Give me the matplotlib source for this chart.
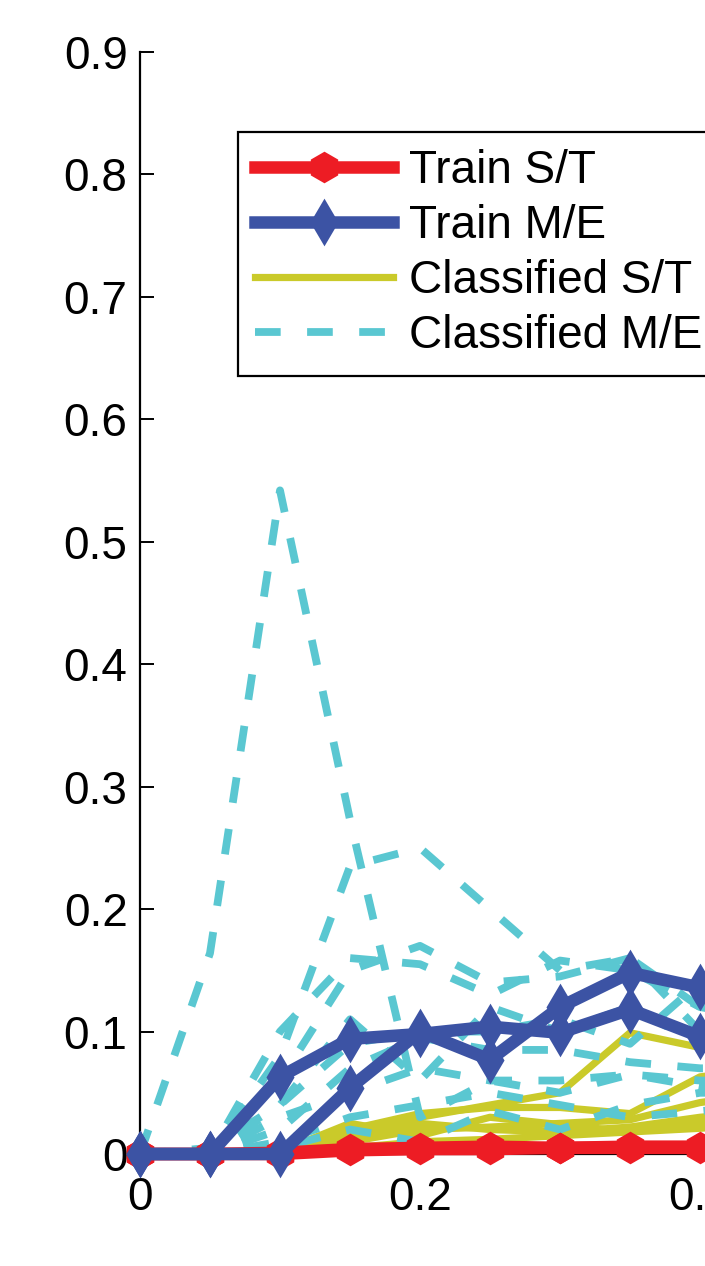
import matplotlib
matplotlib.use('Agg')
import matplotlib.pyplot as plt
import numpy as np

plt.rcParams['font.family'] = ['Liberation Sans', 'DejaVu Sans']

# x grid of the curves
x_vals = [0, 0.05, 0.10, 0.15, 0.20, 0.25, 0.30, 0.35, 0.40, 0.45]

# Train S/T (red)
train_st = [
    [0, 0, 0.001, 0.004, 0.005, 0.006, 0.005, 0.006, 0.006, 0.006],
    [0, 0, 0.000, 0.003, 0.004, 0.004, 0.005, 0.005, 0.005, 0.005],
]

# Train M/E (blue)
train_me = [
    [0, 0, 0.063, 0.094, 0.098, 0.104, 0.099, 0.118, 0.096, 0.090],
    [0, 0, 0.000, 0.054, 0.100, 0.077, 0.120, 0.148, 0.136, 0.130],
]

# Classified S/T (yellow)
classified_st = [
    [0, 0, 0.002, 0.015, 0.030, 0.040, 0.050, 0.099, 0.087, 0.080],
    [0, 0, 0.003, 0.020, 0.033, 0.038, 0.038, 0.033, 0.063, 0.070],
    [0, 0, 0.002, 0.010, 0.020, 0.022, 0.025, 0.028, 0.042, 0.050],
    [0, 0, 0.001, 0.012, 0.025, 0.020, 0.018, 0.022, 0.030, 0.035],
    [0, 0, 0.001, 0.005, 0.010, 0.012, 0.015, 0.018, 0.021, 0.025],
    [0, 0, 0.002, 0.025, 0.015, 0.030, 0.024, 0.018, 0.025, 0.030],
]

# Classified M/E (cyan, dashed)
classified_me = [
    [0, 0.164, 0.542, 0.273, 0.030, 0.060, 0.050, 0.065, 0.055, 0.050],
    [0, 0.000, 0.080, 0.235, 0.250, 0.200, 0.150, 0.160, 0.120, 0.110],
    [0, 0.000, 0.100, 0.160, 0.155, 0.130, 0.158, 0.150, 0.120, 0.110],
    [0, 0.000, 0.060, 0.150, 0.170, 0.140, 0.145, 0.160, 0.100, 0.090],
    [0, 0.000, 0.040, 0.110, 0.060, 0.120, 0.100, 0.120, 0.090, 0.080],
    [0, 0.000, 0.020, 0.070, 0.095, 0.085, 0.085, 0.075, 0.070, 0.070],
    [0, 0.000, 0.030, 0.050, 0.070, 0.060, 0.060, 0.065, 0.060, 0.060],
    [0, 0.000, 0.010, 0.030, 0.040, 0.050, 0.040, 0.030, 0.035, 0.040],
    [0, 0.000, 0.005, 0.020, 0.010, 0.035, 0.020, 0.040, 0.050, 0.050],
    [0, 0.005, 0.040, 0.090, 0.100, 0.100, 0.110, 0.090, 0.140, 0.130],
]

legend_labels = ['Train S/T', 'Train M/E', 'Classified S/T', 'Classified M/E']
y_ticks = [0, 0.1, 0.2, 0.3, 0.4, 0.5, 0.6, 0.7, 0.8, 0.9]
x_ticks = [0, 0.2, 0.4, 0.6, 0.8, 1.0]

RED = '#ED1C24'
BLUE = '#3C53A4'
YELLOW = '#CACA2A'
CYAN = '#5AC7D1'

W, H = 705, 1266
fig = plt.figure(figsize=(W / 100, H / 100), dpi=100)
# axes is wider than the figure: the picture is a crop of a wider plot
ax = fig.add_axes([140 / W, (H - 1154) / H, 1400 / W, (1154 - 52) / H])
ax.set_xlim(0, 1.0)
ax.set_ylim(0, 0.9)

handles = {}
for ys in classified_st:
    h, = ax.plot(x_vals, ys, color=YELLOW, lw=5.2, clip_on=False, zorder=2)
handles['Classified S/T'] = h

for ys in classified_me:
    h, = ax.plot(x_vals, ys, color=CYAN, lw=5.6, dashes=(3.3, 3.4),
                 clip_on=False, zorder=3)
handles['Classified M/E'] = h

for ys in train_st:
    h, = ax.plot(x_vals, ys, color=RED, lw=9, marker='h', markersize=17,
                 markeredgewidth=5, markerfacecolor=RED, markeredgecolor=RED,
                 clip_on=False, zorder=4)
handles['Train S/T'] = h

for ys in train_me:
    h, = ax.plot(x_vals, ys, color=BLUE, lw=9, marker='d', markersize=17,
                 markeredgewidth=5, markerfacecolor=BLUE, markeredgecolor=BLUE,
                 clip_on=False, zorder=5)
handles['Train M/E'] = h

ax.set_yticks(y_ticks)
ax.set_yticklabels(['%g' % v for v in y_ticks])
ax.set_xticks(x_ticks)
ax.set_xticklabels(['%g' % v for v in x_ticks])
ax.tick_params(axis='both', direction='in', length=10, width=1.4,
               labelsize=33, colors='black')
ax.tick_params(axis='y', pad=9)
ax.tick_params(axis='x', pad=16)

for side in ['top', 'right']:
    ax.spines[side].set_visible(False)
ax.spines['left'].set_linewidth(1.6)
ax.spines['bottom'].set_linewidth(1.6)

leg = fig.legend([handles[l] for l in legend_labels], legend_labels,
                 loc='upper left', bbox_to_anchor=(238 / W, 1 - 132 / H),
                 bbox_transform=fig.transFigure, borderaxespad=0,
                 fontsize=33, numpoints=1, handlelength=3.0,
                 handletextpad=0.35, labelspacing=0.24, borderpad=0.38,
                 fancybox=False, framealpha=1, edgecolor='black')
leg.get_frame().set_linewidth(1.6)

fig.savefig('out.png', dpi=100, facecolor='white')
